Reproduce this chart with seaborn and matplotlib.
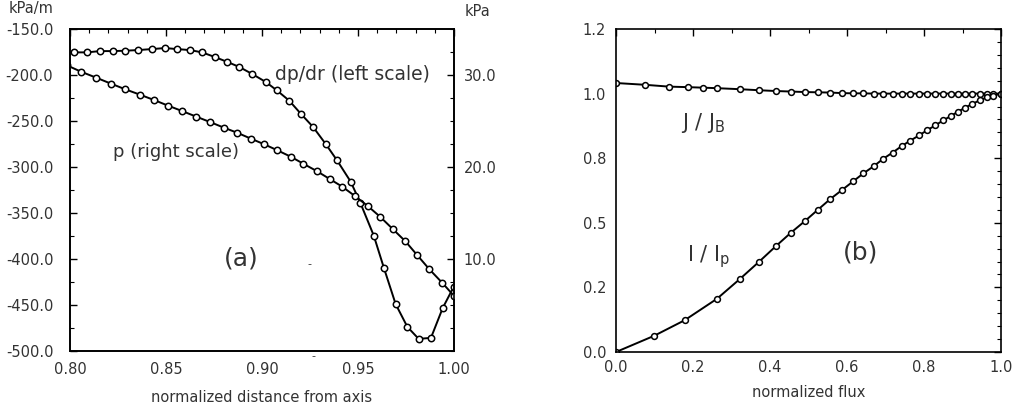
import numpy as np
import pandas as pd
import matplotlib
matplotlib.use("Agg")
import matplotlib.pyplot as plt
from matplotlib.ticker import MultipleLocator, FormatStrFormatter, FixedLocator
import seaborn as sns

# ---------------- data ----------------
# panel (a): dp/dr (left scale, kPa/m)
dpdr_r = [0.8021, 0.8089, 0.8156, 0.8224, 0.8286, 0.8354, 0.8427, 0.8495, 0.8557,
          0.8625, 0.8688, 0.8755, 0.8818, 0.8880, 0.8948, 0.9021, 0.9078, 0.9141,
          0.9203, 0.9266, 0.9333, 0.9391, 0.9462, 0.9512, 0.9582, 0.9635, 0.9696,
          0.9757, 0.9816, 0.9880, 0.9941, 0.9998]
dpdr_val = [-174.9, -174.9, -173.5, -173.5, -173.1, -172.4, -171.3, -170.2, -171.3,
            -172.4, -174.9, -180.0, -185.2, -190.6, -198.3, -207.3, -216.4, -227.3,
            -241.9, -256.1, -275.0, -292.5, -315.7, -338.6, -374.3, -409.6, -448.9,
            -473.7, -486.8, -485.7, -453.3, -430.3]
# panel (a): p (right scale, kPa)
p_r = [0.7984, 0.8057, 0.8137, 0.8214, 0.8288, 0.8365, 0.8438, 0.8512, 0.8583,
       0.8658, 0.8729, 0.8802, 0.8871, 0.8943, 0.9012, 0.9080, 0.9150, 0.9215,
       0.9285, 0.9353, 0.9418, 0.9484, 0.9551, 0.9615, 0.9681, 0.9747, 0.9809,
       0.9872, 0.9938, 0.9999]
p_val = [31.10, 30.41, 29.75, 29.10, 28.49, 27.90, 27.32, 26.70, 26.13,
         25.51, 24.93, 24.31, 23.76, 23.11, 22.50, 21.85, 21.15, 20.39,
         19.59, 18.72, 17.89, 16.87, 15.78, 14.62, 13.28, 11.94, 10.42,
         8.89, 7.44, 6.02]

# panel (b): J/J_B
j_flux = [0.0, 0.0761, 0.1377, 0.1862, 0.2252, 0.2623, 0.3221, 0.3714, 0.4148,
          0.4538, 0.4909, 0.5247, 0.5566, 0.5862, 0.6156, 0.6423, 0.6694, 0.6943,
          0.7187, 0.7421, 0.7644, 0.7870, 0.8078, 0.8294, 0.8494, 0.8694, 0.8883,
          0.9073, 0.9255, 0.9447, 0.9629, 0.9800, 1.0]
j_val = [1.041, 1.034, 1.027, 1.025, 1.023, 1.021, 1.017, 1.013, 1.010,
         1.008, 1.006, 1.005, 1.004, 1.002, 1.001, 1.001, 1.0, 1.0,
         1.0, 1.0, 1.0, 1.0, 1.0, 1.0, 1.0, 1.0, 1.0,
         1.0, 1.0, 1.0, 1.0, 1.0, 1.0]
# panel (b): I/I_p
i_flux = [0.0, 0.0995, 0.1784, 0.2623, 0.3221, 0.3714, 0.4148, 0.4538, 0.4909,
          0.5247, 0.5566, 0.5862, 0.6156, 0.6423, 0.6694, 0.6943, 0.7187, 0.7421,
          0.7644, 0.7870, 0.8078, 0.8294, 0.8494, 0.8694, 0.8883, 0.9073, 0.9255,
          0.9447, 0.9629, 0.9800, 1.0]
i_val = [0.0, 0.063, 0.123, 0.206, 0.283, 0.349, 0.409, 0.461, 0.507,
         0.551, 0.592, 0.626, 0.660, 0.691, 0.719, 0.748, 0.772, 0.797,
         0.818, 0.838, 0.858, 0.877, 0.896, 0.913, 0.930, 0.946, 0.960,
         0.974, 0.985, 0.992, 1.0]

left_yticks = [-500, -450, -400, -350, -300, -250, -200, -150]
right_yticks = [10, 20, 30]
a_xticks = [0.80, 0.85, 0.90, 0.95, 1.00]
b_xticks = [0.0, 0.2, 0.4, 0.6, 0.8, 1.0]
b_yticks = [0.0, 0.25, 0.5, 0.75, 1.0, 1.25]

# ---------------- style ----------------
sns.set_theme(style="white")
plt.rcParams['font.family'] = ['DejaVu Sans']
TXT = "#333333"
TICKFS = 10.5

fig = plt.figure(figsize=(10.19, 4.15), dpi=100)
ax = fig.add_axes([70/1019, 1-351/415, 384/1019, 321.5/415])
axb = fig.add_axes([616/1019, 1-352/415, 385/1019, 323/415])

line_kw = dict(color="black", linewidth=1.4, marker="o", markersize=4.6,
               markerfacecolor="white", markeredgecolor="black", markeredgewidth=1.1,
               estimator=None, sort=False, legend=False)

def style_ax(a, xpad):
    for s in a.spines.values():
        s.set_color("black")
        s.set_linewidth(1.2)
    a.tick_params(which="both", direction="in", colors="black", labelcolor=TXT,
                  labelsize=TICKFS, top=True)
    a.tick_params(which="major", length=5, width=1)
    a.tick_params(which="minor", length=3, width=0.8)
    a.tick_params(axis="x", which="major", pad=xpad)
    a.set_facecolor("white")

# ---- panel (a)
df_dp = pd.DataFrame({"r": dpdr_r, "v": dpdr_val})
sns.lineplot(data=df_dp, x="r", y="v", ax=ax, **line_kw)
ax.set_xlim(0.80, 1.00)
ax.set_ylim(-500, -150)
ax.xaxis.set_major_locator(FixedLocator(a_xticks))
ax.xaxis.set_minor_locator(MultipleLocator(0.01))
ax.xaxis.set_major_formatter(FormatStrFormatter("%.2f"))
ax.yaxis.set_major_locator(FixedLocator(left_yticks))
ax.yaxis.set_minor_locator(MultipleLocator(25))
ax.yaxis.set_major_formatter(FormatStrFormatter("%.1f"))
ax.set_xlabel("normalized distance from axis", color=TXT, fontsize=10.5, labelpad=9)
ax.set_ylabel("")
style_ax(ax, 8)
ax.tick_params(which="both", right=False)
ax.tick_params(axis="y", which="major", pad=12)

ax2 = ax.twinx()
df_p = pd.DataFrame({"r": p_r, "v": p_val})
sns.lineplot(data=df_p, x="r", y="v", ax=ax2, **line_kw)
ax2.set_xlim(0.80, 1.00)
ax2.set_ylim(0, 35)
ax2.yaxis.set_major_locator(FixedLocator(right_yticks))
ax2.yaxis.set_minor_locator(MultipleLocator(2.5))
ax2.yaxis.set_major_formatter(FormatStrFormatter("%.1f"))
ax2.set_ylabel("")
for s in ax2.spines.values():
    s.set_color("black")
    s.set_linewidth(1.2)
ax2.tick_params(which="both", direction="in", colors="black", labelcolor=TXT,
                labelsize=TICKFS, right=True, left=False, top=False)
ax2.tick_params(which="major", length=5, width=1, pad=7)
ax2.tick_params(which="minor", length=3, width=0.8)

fig.text(9/1019, 1-8/415, "kPa/m", color=TXT, fontsize=10.5, ha="left", va="center")
fig.text(465/1019, 1-12/415, "kPa", color=TXT, fontsize=10.5, ha="left", va="center")
ax.text(0.9068, -199, "dp/dr (left scale)", color=TXT, fontsize=13.5, ha="left", va="center")
ax.text(0.8225, -283, "p (right scale)", color=TXT, fontsize=13, ha="left", va="center")
ax.text(0.889, -399, "(a)", color=TXT, fontsize=18, ha="center", va="center")
ax.text(0.9245, -405, "-", color=TXT, fontsize=8, ha="center", va="center")
fig.text(313/1019, 1-356/415, "-", color=TXT, fontsize=8, ha="center", va="center")

# ---- panel (b)
df_j = pd.DataFrame({"f": j_flux, "v": j_val})
df_i = pd.DataFrame({"f": i_flux, "v": i_val})
kw_b = dict(line_kw)
kw_b["markersize"] = 4.2
sns.lineplot(data=df_j, x="f", y="v", ax=axb, **kw_b)
sns.lineplot(data=df_i, x="f", y="v", ax=axb, **kw_b)
axb.set_xlim(0, 1.0)
axb.set_ylim(0, 1.25)
axb.xaxis.set_major_locator(FixedLocator(b_xticks))
axb.xaxis.set_minor_locator(MultipleLocator(0.1))
axb.xaxis.set_major_formatter(FormatStrFormatter("%.1f"))
axb.yaxis.set_major_locator(FixedLocator(b_yticks))
axb.yaxis.set_minor_locator(MultipleLocator(0.05))
axb.yaxis.set_major_formatter(FormatStrFormatter("%.1f"))
axb.set_xlabel("normalized flux", color=TXT, fontsize=10.5, labelpad=7)
axb.set_ylabel("")
style_ax(axb, 6)
axb.tick_params(which="both", right=True)
axb.tick_params(axis="y", which="major", pad=7)
axb.text(0.17, 0.885, r"J / J$_\mathregular{B}$", color=TXT, fontsize=15, ha="left", va="center")
axb.text(0.185, 0.37, r"I / I$_\mathregular{p}$", color=TXT, fontsize=15, ha="left", va="center")
axb.text(0.634, 0.385, "(b)", color=TXT, fontsize=18, ha="center", va="center")

fig.savefig("out.png", dpi=100, facecolor="white")
